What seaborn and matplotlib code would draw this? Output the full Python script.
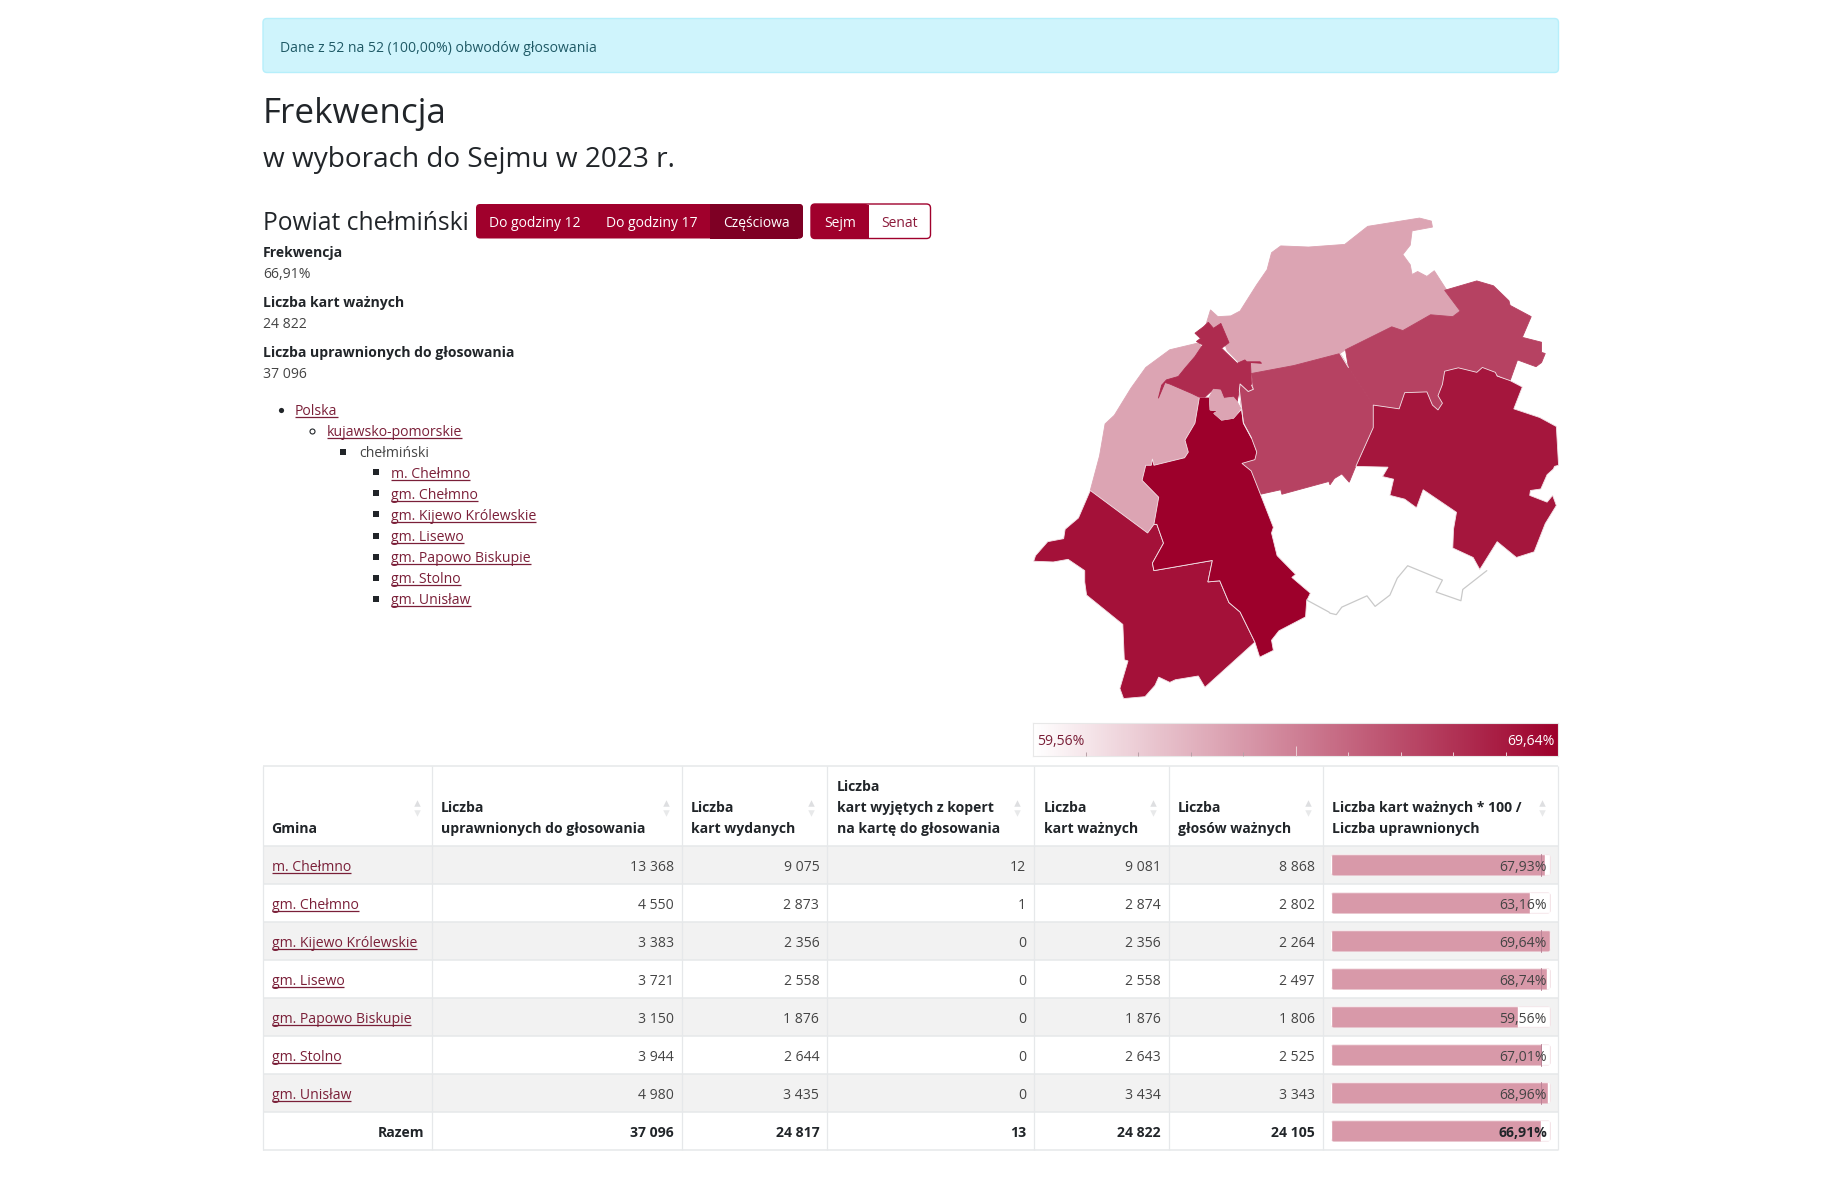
"""Frekwencja 2023, powiat chełmiński: reproduction of the results page."""

import numpy as np
import pandas as pd
import matplotlib
matplotlib.use("Agg")
import matplotlib.pyplot as plt
from matplotlib.colors import LinearSegmentedColormap
from matplotlib.patches import FancyBboxPatch, Rectangle
import seaborn as sns

# ---- table data ----
GMINY = ["m. Chełmno", "gm. Chełmno", "gm. Kijewo Królewskie", "gm. Lisewo",
         "gm. Papowo Biskupie", "gm. Stolno", "gm. Unisław"]
UPRAWNIENI = [13368, 4550, 3383, 3721, 3150, 3944, 4980]
WYDANE = [9075, 2873, 2356, 2558, 1876, 2644, 3435]
WYJETE = [12, 1, 0, 0, 0, 0, 0]
WAZNE = [9081, 2874, 2356, 2558, 1876, 2643, 3434]
GLOSY = [8868, 2802, 2264, 2497, 1806, 2525, 3343]
PROCENT = [67.93, 63.16, 69.64, 68.74, 59.56, 67.01, 68.96]
RAZEM = [37096, 24817, 13, 24822, 24105]
RAZEM_PROCENT = 66.91
NAGLOWKI = [["Gmina"],
            ["Liczba", "uprawnionych do głosowania"],
            ["Liczba", "kart wydanych"],
            ["Liczba", "kart wyjętych z kopert", "na kartę do głosowania"],
            ["Liczba", "kart ważnych"],
            ["Liczba", "głosów ważnych"],
            ["Liczba kart ważnych * 100 /", "Liczba uprawnionych"]]
VMIN, VMAX = 59.56, 69.64

# ---- map outlines ----
MAP_LIGHT_NORTH = [(515, 292), (535, 310), (570, 308), (595, 295), (640, 225), (668, 185), (680, 140),
                   (705, 122), (780, 125), (878, 118), (940, 70), (1080, 48), (1112, 56), (1115, 72),
                   (1060, 82), (1055, 120), (1035, 145), (1055, 172), (1060, 198), (1075, 190),
                   (1100, 203), (1120, 188), (1190, 295), (1170, 310), (1110, 305), (1035, 347),
                   (1005, 337), (880, 398), (865, 408), (740, 440), (626, 461), (600, 440), (560, 400),
                   (540, 345), (500, 340)]
MAP_LIGHT_WEST = [(486, 379), (405, 398), (340, 445), (300, 500), (255, 572), (230, 595), (215, 680),
                  (190, 772), (345, 885), (362, 862), (375, 790), (330, 745), (340, 705), (355, 705),
                  (358, 688), (362, 705), (445, 685), (455, 670), (446, 638), (473, 593), (485, 524),
                  (490, 480), (490, 400)]
MAP_ENCLAVE = [(512, 523), (523, 503), (542, 505), (551, 527), (577, 524), (587, 536), (597, 554),
               (577, 580), (545, 585), (524, 567), (536, 561), (514, 558)]
MAP_CITY = [(473, 354), (496, 337), (509, 325), (523, 341), (543, 328), (565, 379), (545, 394),
            (587, 434), (608, 425), (613, 430), (649, 430), (653, 434), (623, 432), (626, 492),
            (631, 503), (617, 509), (595, 489), (593, 505), (587, 536), (577, 524), (551, 527),
            (542, 505), (523, 503), (500, 524), (485, 524), (464, 514), (405, 489), (392, 485),
            (374, 527), (383, 492), (396, 478), (428, 469), (446, 447), (473, 416), (494, 385),
            (477, 376), (488, 368)]
MAP_CENTRAL = [(626, 461), (740, 440), (865, 408), (888, 445), (955, 545), (955, 605), (915, 690),
               (890, 750), (870, 728), (850, 740), (838, 757), (835, 748), (708, 782), (705, 770),
               (650, 782), (625, 720), (600, 700), (635, 690), (640, 665), (626, 633), (604, 593),
               (593, 505), (595, 489), (617, 509), (631, 503)]
MAP_CENTRAL_BORDER = [(626, 492), (631, 503), (617, 509), (595, 489), (593, 505), (604, 593), (626, 633)]
MAP_NORTHEAST = [(880, 398), (1005, 337), (1035, 347), (1110, 305), (1170, 310), (1190, 295),
                 (1148, 240), (1235, 215), (1280, 228), (1322, 268), (1325, 280), (1382, 310),
                 (1358, 365), (1410, 378), (1410, 405), (1420, 408), (1410, 432), (1395, 443),
                 (1345, 425), (1325, 480), (1290, 465), (1285, 460), (1250, 445), (1235, 458),
                 (1185, 446), (1148, 455), (1142, 490), (1130, 520), (1142, 540), (1130, 560),
                 (1115, 545), (1100, 510), (1040, 512), (1025, 555), (955, 545), (888, 445)]
MAP_NE_BORDER = [(865, 408), (888, 445)]
MAP_EAST = [(955, 545), (1025, 555), (1040, 512), (1100, 510), (1115, 545), (1130, 558), (1142, 540),
            (1130, 520), (1142, 490), (1148, 455), (1185, 446), (1235, 458), (1250, 445), (1285, 458),
            (1290, 468), (1325, 480), (1358, 497), (1335, 555), (1405, 578), (1450, 602), (1456, 705),
            (1445, 708), (1442, 715), (1425, 730), (1408, 768), (1380, 772), (1378, 785), (1425, 803),
            (1440, 785), (1450, 812), (1420, 860), (1390, 935), (1342, 950), (1290, 908), (1243, 982),
            (1225, 950), (1170, 925), (1172, 875), (1180, 830), (1090, 770), (1072, 818), (1040, 795),
            (1000, 785), (1010, 742), (980, 735), (995, 710), (908, 708), (955, 605)]
MAP_CENTER_DARK = [(485, 524), (512, 524), (514, 558), (536, 561), (524, 567), (545, 585), (577, 580),
                   (599, 556), (604, 593), (626, 633), (640, 670), (635, 690), (600, 700), (625, 720),
                   (650, 782), (685, 870), (680, 885), (695, 945), (745, 995), (735, 1003), (785, 1045),
                   (775, 1065), (772, 1108), (700, 1145), (680, 1170), (685, 1197), (648, 1215),
                   (635, 1175), (595, 1095), (565, 1070), (540, 1012), (508, 1015), (520, 958),
                   (362, 985), (358, 965), (388, 912), (370, 862), (362, 862), (375, 790), (330, 745),
                   (340, 705), (355, 705), (358, 688), (362, 705), (445, 685), (455, 670), (446, 638),
                   (473, 593)]
MAP_SOUTHWEST = [(190, 772), (345, 885), (362, 862), (370, 862), (388, 912), (358, 965), (362, 985),
                 (520, 958), (508, 1015), (540, 1012), (565, 1070), (595, 1095), (635, 1175), (500, 1295),
                 (482, 1265), (420, 1275), (405, 1282), (375, 1268), (365, 1290), (338, 1320), (280, 1325),
                 (270, 1298), (292, 1225), (282, 1222), (278, 1128), (180, 1050), (175, 1015), (175, 985),
                 (130, 955), (90, 962), (37, 960), (42, 945), (75, 908), (118, 900), (122, 875), (158, 845)]
MAP_EMPTY_LINE = [(775, 1063), (835, 1095), (838, 1098), (855, 1102), (870, 1082), (938, 1052), (960, 1080),
                  (1000, 1050), (1020, 1005), (1048, 972), (1142, 1010), (1125, 1042), (1192, 1065),
                  (1197, 1035), (1262, 985)]

# ---- style ----
W, H = 1842, 1179
RED = "#A0002C"
RED_DARK = "#7E0024"
LINK = "#7A1F38"
TEXT = "#212529"
BODY = "#444444"
GRID = "#E6E8EA"
STRIPE = "#F2F2F2"
BAR = "#D899A9"
EDGE = "#F3E3E8"
BASE = 10.1

sns.set_theme(style="white")
plt.rcParams["font.family"] = ["Open Sans", "DejaVu Sans"]

cmap = LinearSegmentedColormap.from_list("frekw", ["#FFFFFF", "#9D002B"])


def shade(value):
    return cmap((value - VMIN) / (VMAX - VMIN))


def fmt(n):
    return f"{n:,}".replace(",", " ")


def pct(v):
    return f"{v:.2f}%".replace(".", ",")


fig = plt.figure(figsize=(W / 100, H / 100), dpi=100, facecolor="white")
page = fig.add_axes([0, 0, 1, 1])
page.set_xlim(0, W)
page.set_ylim(H, 0)
page.axis("off")


def inset(x0, y0, x1, y1):
    """Axes placed by picture pixels."""
    ax = fig.add_axes([x0 / W, 1 - y1 / H, (x1 - x0) / W, (y1 - y0) / H])
    ax.patch.set_alpha(0)
    return ax


def label(x, y, s, size=BASE, color=BODY, weight="normal", ha="left"):
    return page.text(x, y, s, fontsize=size, color=color, fontweight=weight,
                     ha=ha, va="center_baseline")


def link(x, y, s, size=BASE):
    t = label(x, y, s, size=size, color=LINK)
    ext = t.get_window_extent(fig.canvas.get_renderer())
    page.plot([x, x + ext.width], [y + 7.5, y + 7.5], color=LINK, lw=0.9, solid_capstyle="butt")


def box(x0, y0, x1, y1, face, edge="none", r=4):
    page.add_patch(FancyBboxPatch((x0 + r, y0 + r), x1 - x0 - 2 * r, y1 - y0 - 2 * r,
                                  boxstyle=f"round,pad={r},rounding_size={r}",
                                  fc=face, ec=edge, lw=1))


# ---- banner and headings ----
box(263, 18.5, 1558.5, 72.5, "#CFF4FC", "#B6EFFB")
label(280, 46, "Dane z 52 na 52 (100,00%) obwodów głosowania", color="#1F5A66")
label(263, 110, "Frekwencja", size=25.2, color=TEXT)
label(263, 156, "w wyborach do Sejmu w 2023 r.", size=20.2, color=TEXT)
label(263, 220, "Powiat chełmiński", size=17.7, color=TEXT)

# ---- buttons ----
box(476, 204, 803, 238.5, RED)
page.add_patch(Rectangle((710, 204), 88, 34.5, fc=RED_DARK, ec="none"))
box(780, 204, 803, 238.5, RED_DARK)
box(811, 204, 930.5, 238.5, "white", RED)
box(811, 204, 869, 238.5, RED)
page.add_patch(Rectangle((860, 204.5), 9, 33.5, fc=RED, ec="none"))
for x, s, c in [(534.7, "Do godziny 12", "white"), (651.7, "Do godziny 17", "white"),
                (756.4, "Częściowa", "white"), (840, "Sejm", "white"), (899.7, "Senat", "#8B1A3A")]:
    label(x, 221.5, s, size=10, color=c, ha="center")

# ---- summary ----
for y, head, val in [(252, "Frekwencja", pct(RAZEM_PROCENT)),
                     (302, "Liczba kart ważnych", fmt(RAZEM[3])),
                     (352, "Liczba uprawnionych do głosowania", fmt(RAZEM[0]))]:
    label(263, y, head, size=10.1, color=TEXT, weight="bold")
    label(263, y + 20.6, val)

# ---- nested list ----
link(295, 409.5, "Polska")
page.scatter([281], [409.5], s=14, color=TEXT, lw=0)
link(327, 430.5, "kujawsko-pomorskie")
page.scatter([311.5], [430.5], s=13, fc="white", ec=TEXT, lw=0.8)
label(359, 451.7, "chełmiński")
page.scatter([343], [451.7], s=13, marker="s", color=TEXT, lw=0)
for i, g in enumerate(GMINY):
    y = 472.3 + i * 21.07
    link(391, y, g)
    page.scatter([376], [y], s=13, marker="s", color=TEXT, lw=0)

# ---- map ----
mp = inset(1020, 200, 1600, 790)
for poly, val, edge in [(MAP_LIGHT_NORTH, PROCENT[1], None), (MAP_LIGHT_WEST, PROCENT[1], None),
                        (MAP_CENTRAL, PROCENT[5], None), (MAP_NORTHEAST, PROCENT[5], None),
                        (MAP_EAST, PROCENT[3], EDGE), (MAP_SOUTHWEST, PROCENT[6], EDGE),
                        (MAP_CENTER_DARK, PROCENT[2], EDGE), (MAP_CITY, PROCENT[0], None),
                        (MAP_ENCLAVE, PROCENT[1], None)]:
    xs, ys = zip(*poly)
    # same-colour outline where the picture shows no border, it hides the seam
    mp.fill(xs, ys, facecolor=shade(val), edgecolor=edge or shade(val), lw=0.6)
for line in [MAP_NE_BORDER, MAP_CENTRAL_BORDER]:
    xs, ys = zip(*line)
    mp.plot(xs, ys, color=EDGE, lw=0.7)
xs, ys = zip(*MAP_EMPTY_LINE)
mp.plot(xs, ys, color="#C9C9C9", lw=0.9)
mp.set_xlim(0, 1568)
mp.set_ylim(1568, 0)
mp.axis("off")

# ---- colour scale ----
cb = inset(1033.3, 722.5, 1558, 756.3)
sns.heatmap(np.linspace(VMIN, VMAX, 256)[None, :], cmap=cmap, vmin=VMIN, vmax=VMAX, cbar=False,
            xticklabels=False, yticklabels=False, ax=cb)
for sp in cb.spines.values():
    sp.set_visible(True)
    sp.set_color("#E8E8E8")
    sp.set_linewidth(0.8)
cb.set_axisbelow(False)
tick_pos = [256 * k / 10 for k in range(1, 10)]
cb.set_xticks(tick_pos)
cb.tick_params(axis="x", bottom=True, direction="in", length=3.2, width=0.7, labelbottom=False)
for k, tk in enumerate(cb.xaxis.get_major_ticks()):
    tk.tick1line.set_markeredgecolor("#B9A0A7" if k < 4 else "#EBCFD6")
cb.xaxis.get_major_ticks()[4].tick1line.set_markersize(7)
cb.text(0.008, 0.5, pct(VMIN), transform=cb.transAxes, fontsize=BASE, color=LINK,
        ha="left", va="center_baseline")
cb.text(0.993, 0.5, pct(VMAX), transform=cb.transAxes, fontsize=BASE, color="white",
        ha="right", va="center_baseline")

# ---- table frame ----
ROW_TOP = [846 + 38 * i for i in range(9)]
COLS = [263, 431.7, 681.7, 827.2, 1034.2, 1168.7, 1322.5, 1558]
for i in range(0, 7, 2):
    page.add_patch(Rectangle((COLS[0], ROW_TOP[i]), COLS[-1] - COLS[0], 38, fc=STRIPE, ec="none"))
page.hlines([766] + ROW_TOP, COLS[0], COLS[-1], color=GRID, lw=1.1)
page.vlines(COLS, 766, ROW_TOP[-1], color=GRID, lw=0.9)

# header cells
for c, lines in enumerate(NAGLOWKI):
    for k, s in enumerate(reversed(lines)):
        pad = 8.2 if c == 0 else 9.5
        label(COLS[c] + pad, 827.7 - 21 * k, s, size=10.1, color=TEXT, weight="bold")
for x in [416.5, 666.4, 811.4, 1017, 1153, 1307.5, 1542]:
    page.scatter([x], [803], s=22, marker="^", color="#DEDFE1", lw=0)
    page.scatter([x], [812.5], s=22, marker="v", color="#E8E9EA", lw=0)

# body cells
columns = [UPRAWNIENI, WYDANE, WYJETE, WAZNE, GLOSY]
for r, g in enumerate(GMINY):
    y = ROW_TOP[r] + 19.7
    link(COLS[0] + 8.7, y, g)
    for c, col in enumerate(columns):
        label(COLS[c + 2] - 7.9, y, fmt(col[r]), ha="right")
y = ROW_TOP[7] + 19.7
label(COLS[1] - 7.9, y, "Razem", size=10.1, color=TEXT, weight="bold", ha="right")
for c, val in enumerate(RAZEM):
    label(COLS[c + 2] - 7.9, y, fmt(val), size=10.1, color=TEXT, weight="bold", ha="right")

# ---- share bars in the last column ----
df = pd.DataFrame({"gmina": GMINY + ["Razem"], "procent": PROCENT + [RAZEM_PROCENT]})
TRACK = VMAX + 0.23
df["tor"] = TRACK
BAR_H = 0.553
bars = inset(1331, ROW_TOP[0], 1550.7, ROW_TOP[-1])
sns.barplot(data=df, x="tor", y="gmina", color="white", saturation=1, width=BAR_H,
            edgecolor="#F0D9DF", linewidth=1.6, ax=bars)
sns.barplot(data=df, x="procent", y="gmina", color=BAR, saturation=1, width=BAR_H, ax=bars)
bars.set_xlim(0, TRACK)
bars.set_ylim(len(df) - 0.5, -0.5)
bars.axis("off")

# rounded ends of the bars: 3 px corners clipped on every track
px_x = 219.7 / TRACK
aspect = px_x / 38
rad = 3 / px_x
for patch in bars.patches:
    y0 = patch.get_y()
    clip = FancyBboxPatch((rad, y0 + rad * aspect), TRACK - 2 * rad, BAR_H - 2 * rad * aspect,
                          boxstyle=f"round,pad={rad},rounding_size={rad}",
                          mutation_aspect=aspect, transform=bars.transData)
    patch.set_clip_path(clip)

for r, val in enumerate(df["procent"]):
    if val > RAZEM_PROCENT:
        bars.plot([RAZEM_PROCENT, RAZEM_PROCENT], [r - BAR_H / 2, r + BAR_H / 2], color="#B98296", lw=0.7)
    bars.text(TRACK - 1.2, r + 0.02, pct(val), fontsize=BASE, ha="right", va="center_baseline",
              color=TEXT if r == 7 else BODY, fontweight="bold" if r == 7 else "normal")

fig.savefig("out.png", dpi=100)
